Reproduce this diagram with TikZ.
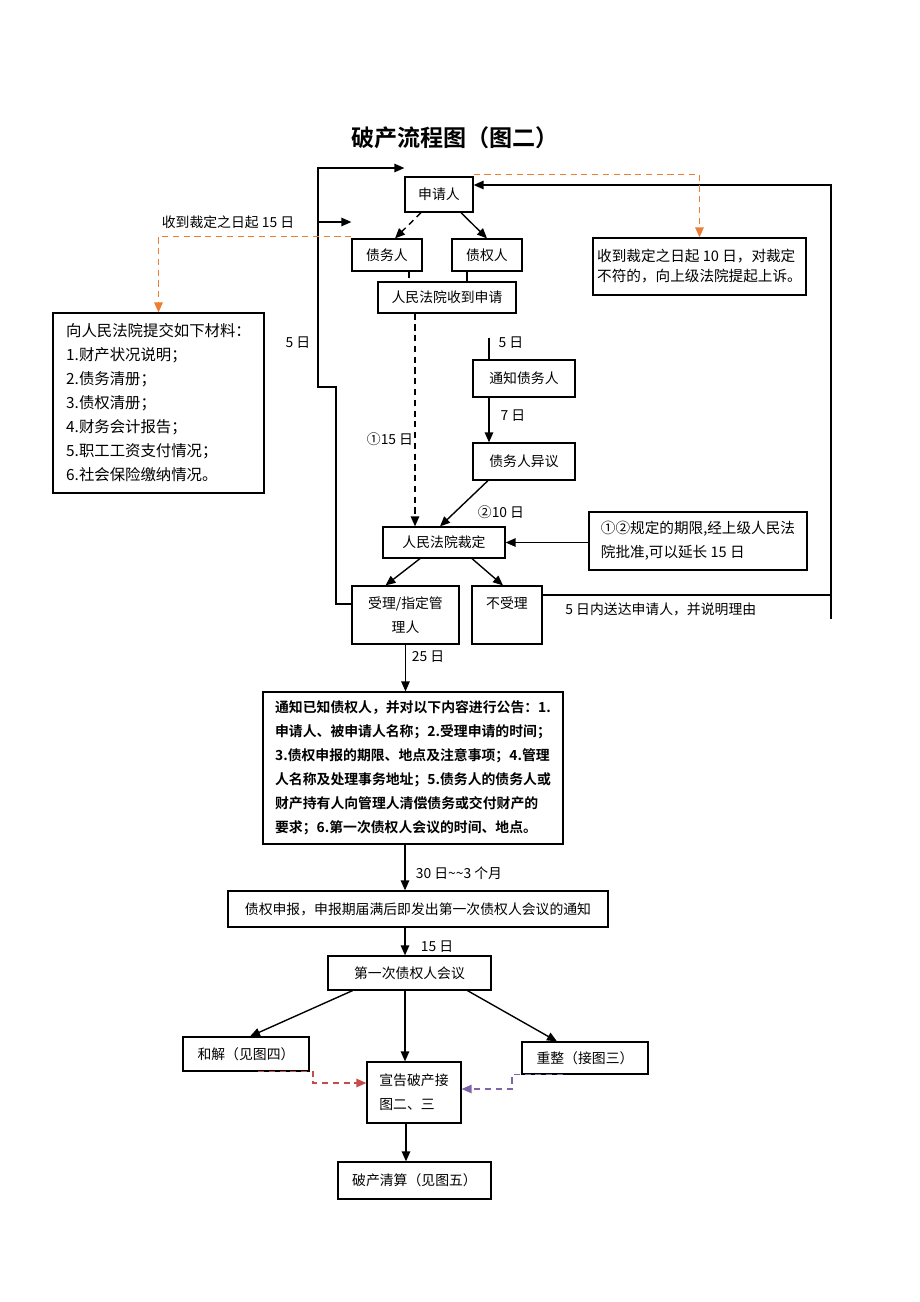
\documentclass[tikz,border=0pt]{standalone}
\usepackage{fontspec}
\setmainfont{Noto Sans CJK SC}[BoldFont={Noto Sans CJK SC Bold}]
\usetikzlibrary{arrows.meta,calc}
\newdimen\px \px=0.65pt
\definecolor{dashorange}{RGB}{237,125,49}
\definecolor{dashred}{RGB}{200,75,75}
\definecolor{dashpurple}{RGB}{128,100,168}
\begin{document}
\begin{tikzpicture}[x=0.65pt,y=-0.65pt,
  box/.style={draw,line width=0.8pt,inner sep=0pt,align=center,font=\fontsize{9}{15.6}\selectfont},
  link/.style={line width=0.9pt},
  arr/.style={line width=0.9pt,-{Triangle[length=6.5pt,width=5.5pt]}},
  bdash/.style={arr,dash pattern=on 4pt off 3pt},
  odash/.style={arr,dashorange,dash pattern=on 4pt off 3pt},
  rdash/.style={arr,dashred,dash pattern=on 4pt off 3pt},
  pdash/.style={arr,dashpurple,dash pattern=on 4pt off 3pt},
  lbl/.style={font=\fontsize{9}{11}\selectfont}]
\useasboundingbox (0,0) rectangle (920,1302);
\node[font=\bfseries\fontsize{15}{18}\selectfont] (title) at (455,138) {破产流程图（图二）};
\node[box,minimum width=68\px,minimum height=35\px] (shenqing) at (439,194.5) {申请人};
\node[box,minimum width=70\px,minimum height=32\px] (zhaiwu) at (387,255) {债务人};
\node[box,minimum width=70\px,minimum height=32\px] (zhaiquan) at (487,255) {债权人};
\node[box,minimum width=138\px,minimum height=31\px] (shoudao) at (447,297.5) {人民法院收到申请};
\node[box,align=left,font=\fontsize{9.5}{13}\selectfont,minimum width=213\px,minimum height=57\px] (shangsu) at (699.5,266.5) {收到裁定之日起 10 日，对裁定\\不符的，向上级法院提起上诉。};
\node[box,align=left,font=\fontsize{10}{15.6}\selectfont,minimum width=211\px,minimum height=180\px] (cailiao) at (158.5,403) {向人民法院提交如下材料：\\1.财产状况说明；\\2.债务清册；\\3.债权清册；\\4.财务会计报告；\\5.职工工资支付情况；\\6.社会保险缴纳情况。};
\node[box,minimum width=102\px,minimum height=37\px] (tongzhi) at (524,378.5) {通知债务人};
\node[box,minimum width=102\px,minimum height=37\px] (yiyi) at (524,461.5) {债务人异议};
\node[box,minimum width=122\px,minimum height=31\px] (caiding) at (444,542.5) {人民法院裁定};
\node[box,align=left,font=\fontsize{9.5}{15.6}\selectfont,minimum width=218\px,minimum height=58\px] (yanchang) at (698,541) {①②规定的期限,经上级人民法\\院批准,可以延长 15 日};
\node[box,minimum width=107\px,minimum height=58\px] (shouli) at (405.5,615) {受理/指定管\\理人};
\node[box,minimum width=70\px,minimum height=58\px] (bushouli) at (507,615) {不受理\\\mbox{}};
\node[box,align=left,font=\bfseries\fontsize{9}{15.6}\selectfont,minimum width=300\px,minimum height=152\px] (gonggao) at (413,768) {通知已知债权人，并对以下内容进行公告：1.\\申请人、被申请人名称；2.受理申请的时间；\\3.债权申报的期限、地点及注意事项；4.管理\\人名称及处理事务地址；5.债务人的债务人或\\财产持有人向管理人清偿债务或交付财产的\\要求；6.第一次债权人会议的时间、地点。};
\node[box,minimum width=380\px,minimum height=36\px] (shenbao) at (418,909) {债权申报，申报期届满后即发出第一次债权人会议的通知};
\node[box,minimum width=163\px,minimum height=34\px] (huiyi) at (409.5,973) {第一次债权人会议};
\node[box,minimum width=126\px,minimum height=34\px] (hejie) at (246,1054) {和解（见图四）};
\node[box,align=left,minimum width=94\px,minimum height=61\px] (xuangao) at (414,1092.5) {宣告破产接\\图二、三};
\node[box,minimum width=126\px,minimum height=32\px] (chongzheng) at (585,1058) {重整（接图三）};
\node[box,minimum width=153\px,minimum height=37\px] (qingsuan) at (414.5,1180.5) {破产清算（见图五）};
\coordinate (ltop) at (318,168);
\coordinate (lmid) at (318,222);
\coordinate (rbot) at (831,619);
\coordinate (tz0) at (489,338);
\coordinate (rd) at (313,1083);
\coordinate (pd) at (512,1089);
\coordinate (gg) at ($(gonggao.south)+(-8,0)$);
\coordinate (sb) at ($(shenbao.south)+(-13,0)$);
\coordinate (hy) at ($(huiyi.south)+(-4.5,0)$);
\coordinate (xg) at ($(xuangao.south)+(-8,0)$);
\draw[bdash] ($(shenqing.south)+(-18,0)$) -- ($(zhaiwu.north)+(8,0)$);
\draw[arr] ($(shenqing.south)+(22,0)$) -- (zhaiquan.north);
\draw[link,dash pattern=on 4pt off 3pt] ($(zhaiwu.south)+(22,0)$) -- ++(0,11);
\draw[link] ($(zhaiquan.south)+(-20,0)$) -- ++(0,11);
\draw[bdash] ($(shoudao.south)+(-32,0)$) -- ($(caiding.north)+(-29,0)$);
\draw[link] (tz0) -- (tz0 |- tongzhi.north);
\draw[arr] ($(tongzhi.south)+(-35,0)$) -- ($(yiyi.north)+(-35,0)$);
\draw[arr] ($(yiyi.south)+(-36,0)$) -- ($(caiding.north)+(-4,0)$);
\draw[arr] (yanchang.west |- caiding.east) -- (caiding.east);
\draw[arr] ($(caiding.south)+(-24,0)$) -- ($(shouli.north)+(-20,0)$);
\draw[arr] ($(caiding.south)+(28,0)$) -- ($(bushouli.north)+(-4,0)$);
\draw[arr] ($(shouli.west)+(0,-11)$) -| (336,387) -- (318,387) -- (ltop) -- (ltop -| shenqing.west);
\draw[arr] (lmid) -- (lmid -| zhaiwu.west);
\draw[link] ($(bushouli.east)+(0,-20)$) -- (rbot |- 0,595);
\draw[arr] (rbot) |- ($(shenqing.east)+(0,-9.5)$);
\draw[odash] ($(zhaiwu.north west)+(0,-2)$) -| (cailiao.north);
\draw[odash] ($(shenqing.north east)+(0,-2)$) -| (shangsu.north);
\draw[arr] (shouli.south) -- (shouli.south |- gonggao.north);
\draw[arr] (gg) -- (gg |- shenbao.north);
\draw[arr] (sb) -- (sb |- huiyi.north);
\draw[arr] ($(huiyi.south)+(-57,0)$) -- ($(hejie.north)+(4,0)$);
\draw[arr] (hy) -- (hy |- xuangao.north);
\draw[arr] ($(huiyi.south)+(58,0)$) -- ($(chongzheng.north)+(-28,0)$);
\draw[rdash] ($(hejie.south)+(12,0)$) -| (rd) -- (rd -| xuangao.west);
\draw[pdash] ($(chongzheng.south)+(-22,0)$) -| (pd) -- (pd -| xuangao.east);
\draw[arr] (xg) -- (xg |- qingsuan.north);
\node[lbl] (lbl15a) at (228,222) {收到裁定之日起 15 日};
\node[lbl] (lbl5a) at (298,343) {5 日};
\node[lbl] (lbl15b) at (390,439) {①15 日};
\node[lbl] (lbl5b) at (511,343) {5 日};
\node[lbl] (lbl7) at (513,416) {7 日};
\node[lbl] (lbl10) at (501,512) {②10 日};
\node[lbl,anchor=west] (lblsd) at (560,609) {5 日内送达申请人，并说明理由};
\node[lbl] (lbl25) at (428,657) {25 日};
\node[lbl] (lbl30) at (459,873) {30 日\textasciitilde\textasciitilde 3 个月};
\node[lbl] (lbl15c) at (437,947) {15 日};
\end{tikzpicture}
\end{document}
